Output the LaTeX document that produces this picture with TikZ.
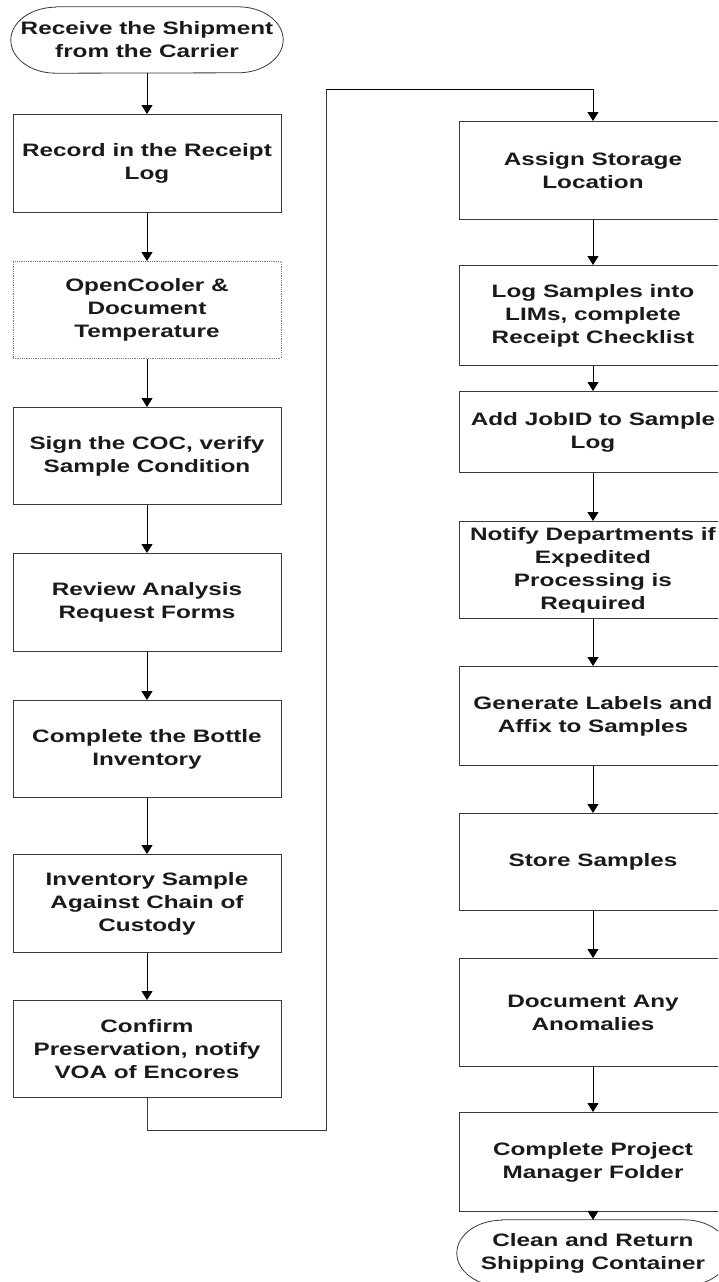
\documentclass[tikz,border=0pt]{standalone}
\usepackage{fontspec}
\newfontfamily\lbl[FakeStretch=1.35]{Liberation Sans Bold}
\usetikzlibrary{arrows.meta}
\definecolor{boxgray}{HTML}{3A3A3A}
\definecolor{txt}{HTML}{1A1A1A}
\begin{document}
\begin{tikzpicture}[x=1pt,y=-1pt,
  boxline/.style={draw=boxgray, line width=0.8pt},
  stepbox/.style={boxline, minimum width=268pt, inner sep=0pt, align=center, anchor=north,
    font=\lbl\fontsize{18}{23}\selectfont, text=txt},
  dotbox/.style={stepbox, draw=gray, densely dotted, line width=0.7pt},
  termtext/.style={minimum width=272pt, minimum height=66pt, inner sep=0pt, align=center,
    font=\lbl\fontsize{18}{23}\selectfont, text=txt},
  conn/.style={draw=black, line width=0.8pt, -{Triangle[width=11pt,length=9pt]}},
  plainline/.style={draw=boxgray, line width=0.8pt}
]
\useasboundingbox (0,0) rectangle (718,1282);
\clip (0,0) rectangle (718,1282);
\fill[white] (0,0) rectangle (718,1282);

% left column
\node[termtext] (t1) at (147,40) {Receive the Shipment\\from the Carrier};
\draw[boxline] ([xshift=45pt]t1.north west) -- ([xshift=-45pt]t1.north east)
  arc[start angle=90,end angle=-90,x radius=45pt,y radius=33pt]
  -- ([xshift=45pt]t1.south west)
  arc[start angle=270,end angle=90,x radius=45pt,y radius=33pt] -- cycle;

\node[stepbox, minimum height=98pt] (L1) at (147,114) {Record in the Receipt\\Log};
\node[dotbox, minimum height=97pt] (L2) at (147,261) {OpenCooler \&\\Document\\Temperature};
\node[stepbox, minimum height=97pt] (L3) at (147,407) {Sign the COC, verify\\Sample Condition};
\node[stepbox, minimum height=98pt] (L4) at (147,553) {Review Analysis\\Request Forms};
\node[stepbox, minimum height=97pt] (L5) at (147,700) {Complete the Bottle\\Inventory};
\node[stepbox, minimum height=98pt] (L6) at (147,854) {Inventory Sample\\Against Chain of\\Custody};
\node[stepbox, minimum height=97pt] (L7) at (147,1000) {Confirm\\Preservation, notify\\VOA of Encores};

% right column
\node[stepbox, minimum height=98pt] (R1) at (593,121) {Assign Storage\\Location};
\node[stepbox, minimum height=100pt] (R2) at (593,265) {Log Samples into\\LIMs, complete\\Receipt Checklist};
\node[stepbox, minimum height=81pt] (R3) at (593,391) {Add JobID to Sample\\Log};
\node[stepbox, minimum height=97pt] (R4) at (593,521) {Notify Departments if\\Expedited\\Processing is\\Required};
\node[stepbox, minimum height=99pt] (R5) at (593,666) {Generate Labels and\\Affix to Samples};
\node[stepbox, minimum height=97pt] (R6) at (593,813) {Store Samples};
\node[stepbox, minimum height=108pt] (R7) at (593,958) {Document Any\\Anomalies};
\node[stepbox, minimum height=99pt] (R8) at (593,1112) {Complete Project\\Manager Folder};

\node[termtext] (t2) at (593,1253) {Clean and Return\\Shipping Container};
\draw[boxline] ([xshift=45pt]t2.north west) -- ([xshift=-45pt]t2.north east)
  arc[start angle=90,end angle=-90,x radius=45pt,y radius=33pt]
  -- ([xshift=45pt]t2.south west)
  arc[start angle=270,end angle=90,x radius=45pt,y radius=33pt] -- cycle;

% connectors
\draw[conn] (t1.south) -- (L1.north);
\draw[conn] (L1.south) -- (L2.north);
\draw[conn] (L2.south) -- (L3.north);
\draw[conn] (L3.south) -- (L4.north);
\draw[conn] (L4.south) -- (L5.north);
\draw[conn] (L5.south) -- (L6.north);
\draw[conn] (L6.south) -- (L7.north);

\coordinate (c1) at (326,1130);
\coordinate (c2) at (326,89);
\draw[plainline] (L7.south) |- (c1) -- (c2);
\draw[conn] (c2) -| (R1.north);

\draw[conn] (R1.south) -- (R2.north);
\draw[conn] (R2.south) -- (R3.north);
\draw[conn] (R3.south) -- (R4.north);
\draw[conn] (R4.south) -- (R5.north);
\draw[conn] (R5.south) -- (R6.north);
\draw[conn] (R6.south) -- (R7.north);
\draw[conn] (R7.south) -- (R8.north);
\draw[conn] (R8.south) -- (t2.north);
\end{tikzpicture}
\end{document}
